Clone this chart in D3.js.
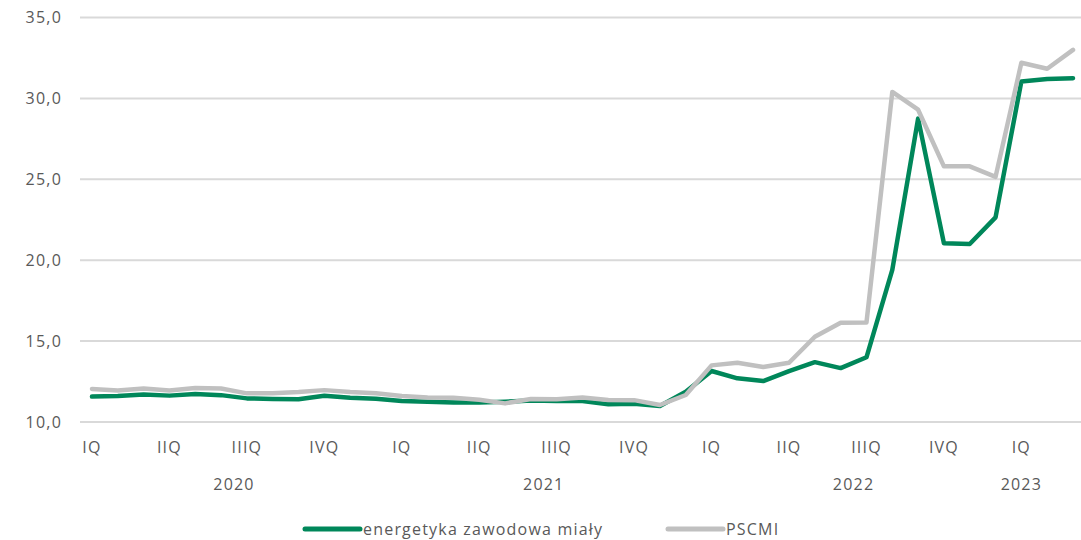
<!doctype html>
<html lang="pl">
<head>
<meta charset="utf-8">
<script src="https://d3js.org/d3.v7.min.js"></script>
<style>
  body { margin: 0; background: #fff; }
  svg text { font-family: "Open Sans", sans-serif; fill: #595959; letter-spacing: 1.2px; }
</style>
</head>
<body>
<svg width="1081" height="540"></svg>
<script>
const months = [
  "2020-01","2020-02","2020-03","2020-04","2020-05","2020-06","2020-07","2020-08","2020-09","2020-10","2020-11","2020-12",
  "2021-01","2021-02","2021-03","2021-04","2021-05","2021-06","2021-07","2021-08","2021-09","2021-10","2021-11","2021-12",
  "2022-01","2022-02","2022-03","2022-04","2022-05","2022-06","2022-07","2022-08","2022-09","2022-10","2022-11","2022-12",
  "2023-01","2023-02","2023-03"
];
// energetyka zawodowa miały
const energetyka = [
  11.57,11.6,11.7,11.63,11.73,11.66,11.46,11.42,11.4,11.62,11.5,11.44,
  11.3,11.25,11.21,11.2,11.25,11.33,11.3,11.3,11.1,11.13,10.99,11.87,
  13.15,12.7,12.53,13.15,13.7,13.33,14.0,19.4,28.75,21.05,21.0,22.65,
  31.05,31.2,31.25
];
// PSCMI
const pscmi = [
  12.04,11.95,12.07,11.95,12.1,12.07,11.77,11.77,11.85,11.97,11.85,11.77,
  11.6,11.52,11.5,11.38,11.15,11.42,11.4,11.52,11.36,11.35,11.05,11.67,
  13.5,13.66,13.4,13.66,15.27,16.13,16.15,30.4,29.3,25.8,25.8,25.15,
  32.2,31.83,33.0
];
const quarterLabels = ["IQ","IIQ","IIIQ","IVQ"];
const years = ["2020","2021","2022","2023"];
const yearSpans = [["2020-01","2020-12"],["2021-01","2021-12"],["2022-01","2022-12"],["2023-01","2023-01"]];
const yTicks = [10,15,20,25,30,35];

const series = [
  {name: "energetyka zawodowa miały", values: energetyka, color: "#00875a"},
  {name: "PSCMI", values: pscmi, color: "#c0c0c0"}
];

const svg = d3.select("svg");
const x = d3.scalePoint().domain(months).range([92, 1073]);
const y = d3.scaleLinear().domain([10, 35]).range([422, 17.5]);

// gridlines + y labels
const gy = svg.append("g");
gy.selectAll("line").data(yTicks).join("line")
  .attr("x1", 80).attr("x2", 1081)
  .attr("y1", d => y(d)).attr("y2", d => y(d))
  .attr("stroke", "#d9d9d9").attr("stroke-width", 2);
gy.selectAll("text").data(yTicks).join("text")
  .attr("x", 62).attr("y", d => y(d)).attr("dy", "0.35em")
  .attr("text-anchor", "end").style("font-size", "16px")
  .text(d => d.toFixed(1).replace(".", ","));

// quarter labels
const qMonths = months.filter((m, i) => i % 3 === 0);
svg.append("g").selectAll("text").data(qMonths).join("text")
  .attr("x", d => x(d)).attr("y", 453)
  .attr("text-anchor", "middle").style("font-size", "16px")
  .text((d, i) => quarterLabels[i % 4]);

// year labels
svg.append("g").selectAll("text").data(years).join("text")
  .attr("x", (d, i) => (x(yearSpans[i][0]) + x(yearSpans[i][1])) / 2)
  .attr("y", 490)
  .attr("text-anchor", "middle").style("font-size", "16px")
  .text(d => d);

// lines
const line = d3.line()
  .x((d, i) => x(months[i]))
  .y(d => y(d));
svg.append("g").selectAll("path").data(series).join("path")
  .attr("d", d => line(d.values))
  .attr("fill", "none")
  .attr("stroke", d => d.color)
  .attr("stroke-width", 4.5)
  .attr("stroke-linejoin", "round")
  .attr("stroke-linecap", "round");

// legend
const legend = svg.append("g");
const lx = [305, 668];
series.forEach((s, i) => {
  const g = legend.append("g").attr("transform", `translate(${lx[i]},529)`);
  g.append("line").attr("x1", 0).attr("x2", 55)
    .attr("stroke", s.color).attr("stroke-width", 5).attr("stroke-linecap", "round");
  g.append("text").attr("x", 58).attr("dy", "0.35em")
    .style("font-size", "16px").text(s.name);
});
</script>
</body>
</html>
